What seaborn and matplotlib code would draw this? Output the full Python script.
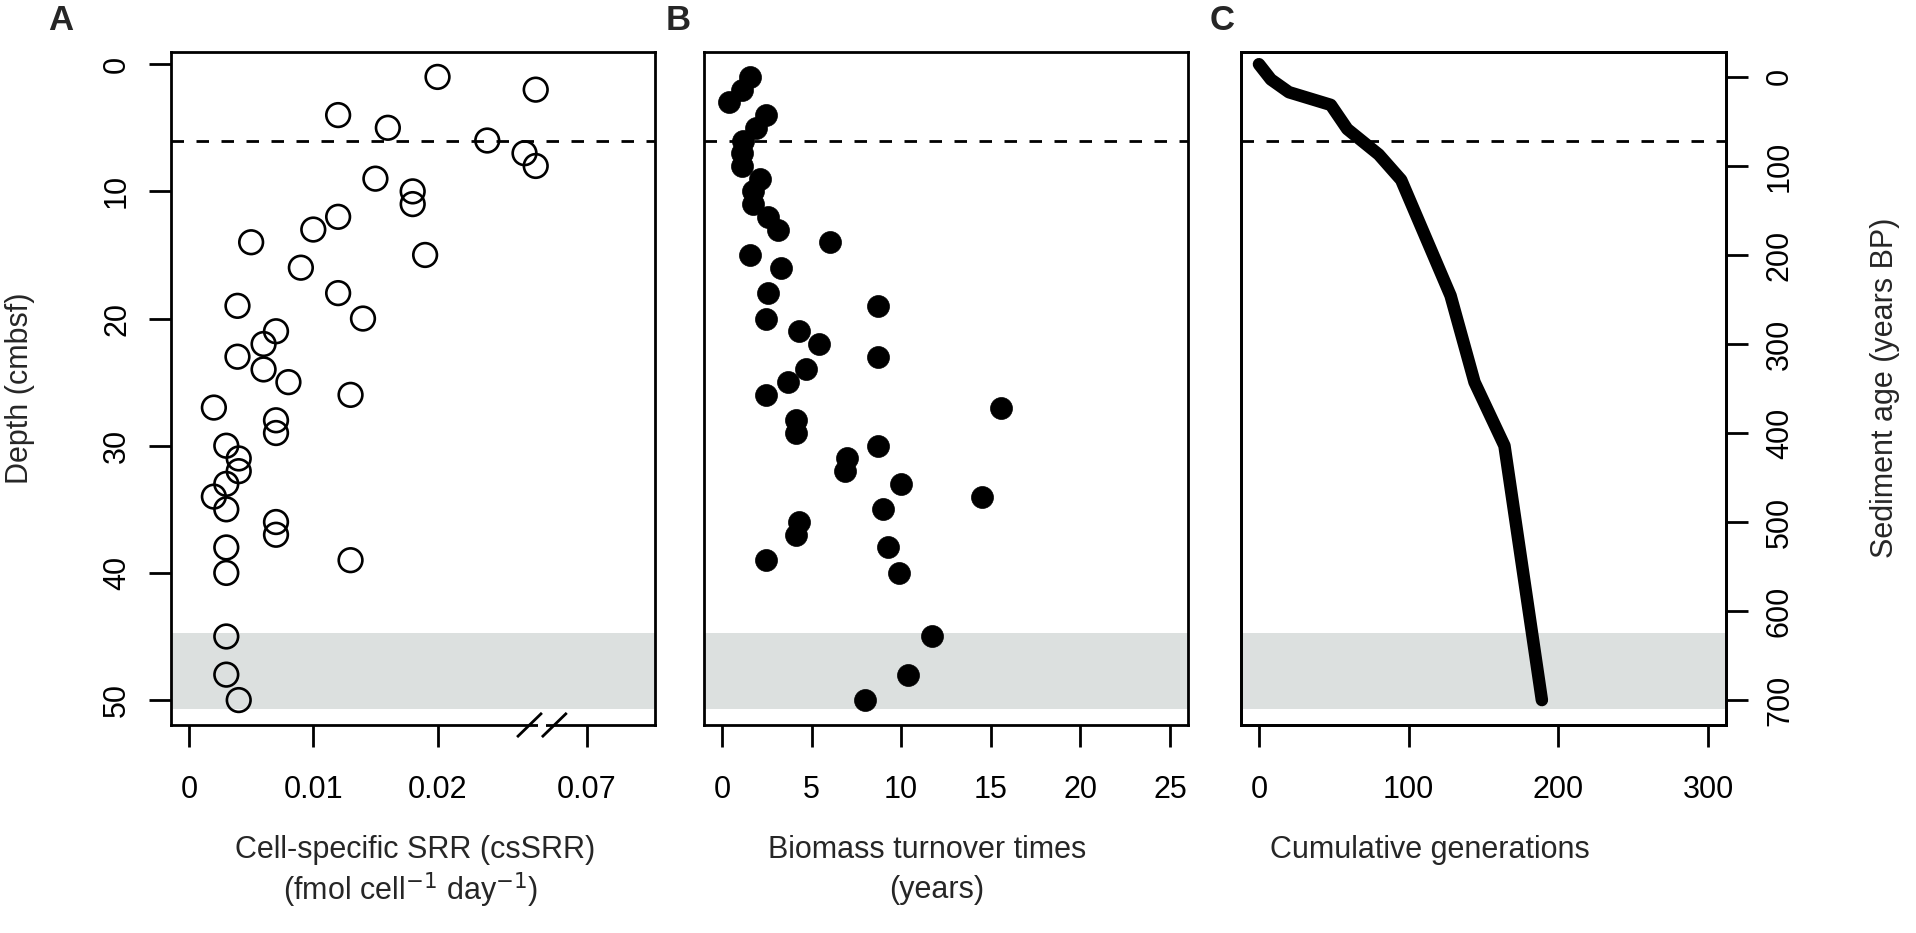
import numpy as np
import pandas as pd
import matplotlib
matplotlib.use("Agg")
import matplotlib.pyplot as plt
import seaborn as sns

# ---------------- data ----------------
depth_a = [1, 2, 4, 5, 6, 7, 8, 9, 10, 11, 12, 13, 14, 15, 16, 18, 19, 20, 21, 22,
           23, 24, 25, 26, 27, 28, 29, 30, 31, 32, 33, 34, 35, 36, 37, 38, 39, 40,
           45, 48, 50]
cssrr = [0.020, 0.0659, 0.012, 0.016, 0.024, 0.065, 0.0659, 0.015, 0.018, 0.018,
         0.012, 0.010, 0.005, 0.019, 0.009, 0.012, 0.0039, 0.014, 0.007, 0.006,
         0.0039, 0.006, 0.008, 0.013, 0.002, 0.007, 0.007, 0.003, 0.004, 0.004,
         0.003, 0.002, 0.003, 0.007, 0.007, 0.003, 0.013, 0.003, 0.003, 0.003,
         0.004]

depth_b = [1, 2, 3, 4, 5, 6, 7, 8, 9, 10, 11, 12, 13, 14, 15, 16, 18, 19, 20, 21,
           22, 23, 24, 25, 26, 27, 28, 29, 30, 31, 32, 33, 34, 35, 36, 37, 38, 39,
           40, 45, 48, 50]
turnover = [1.55, 1.14, 0.39, 2.44, 1.88, 1.17, 1.14, 1.14, 2.10, 1.73, 1.73, 2.57,
            3.13, 6.01, 1.55, 3.28, 2.57, 8.71, 2.44, 4.30, 5.41, 8.71, 4.71, 3.68,
            2.44, 15.59, 4.11, 4.11, 8.71, 7.00, 6.85, 9.97, 14.5, 8.99, 4.30, 4.11,
            9.27, 2.44, 9.86, 11.74, 10.36, 7.96]

depth_c = [0, 1.2, 2.2, 3.2, 5.1, 7.1, 9.1, 18.2, 25.0, 30.0, 50.0]
generations = [0, 8, 20, 48, 59, 80, 95, 128, 144, 164, 189]

xticks_a = [0, 0.01, 0.02, 0.07]
xticklabels_a = ["0", "0.01", "0.02", "0.07"]
xticks_b = [0, 5, 10, 15, 20, 25]
xticks_c = [0, 100, 200, 300]
yticks_depth = [0, 10, 20, 30, 40, 50]
yticks_age = [0, 100, 200, 300, 400, 500, 600, 700]

smtz_depth = 6
band = (44.7, 50.7)

# axis break for panel A: values beyond the break are shifted left
break_shift = 0.038
break_at = 0.0284

def to_broken(v):
    return v - break_shift if v > 0.05 else v

df_a = pd.DataFrame({"x": [to_broken(v) for v in cssrr], "depth": depth_a})
df_b = pd.DataFrame({"x": turnover, "depth": depth_b})
df_c = pd.DataFrame({"gen": generations, "depth": depth_c})

# ---------------- style ----------------
sns.set_theme(style="white")
plt.rcParams['font.family'] = ['Liberation Sans', 'DejaVu Sans']
plt.rcParams['axes.linewidth'] = 2.0
plt.rcParams['axes.edgecolor'] = 'black'

W, H = 1916, 933
fig = plt.figure(figsize=(W / 100, H / 100), dpi=100)

def rect(left, right, top=52, bottom=725):
    return [left / W, 1 - bottom / H, (right - left) / W, (bottom - top) / H]

axA = fig.add_axes(rect(171, 655))
axB = fig.add_axes(rect(704, 1188))
axC = fig.add_axes(rect(1241, 1726))

band_color = '#dce0df'
FS = 22

for ax in (axA, axB, axC):
    ax.axhspan(band[0], band[1], color=band_color, lw=0, zorder=0)
    ax.axhline(smtz_depth, color='black', lw=2.0, ls=(0, (4.5, 4.5)), zorder=1)
    ax.set_ylim(51.96, -0.96)
    for sp in ax.spines.values():
        sp.set_color('black')
        sp.set_linewidth(2.0)
    ax.tick_params(axis='x', bottom=True, direction='out', length=16, width=2,
                   colors='black', labelsize=FS, pad=20)

# Panel A
sns.scatterplot(data=df_a, x="x", y="depth", ax=axA, marker='o', s=290,
                facecolor='none', edgecolor='black', linewidth=1.9, zorder=3)
axA.set_xlim(-0.00145, 0.0375)
axA.set_xticks([to_broken(v) if v > 0.05 else v for v in xticks_a])
axA.set_xticklabels(xticklabels_a)
axA.set_yticks(yticks_depth)
axA.tick_params(axis='y', left=True, direction='out', length=16, width=2,
                colors='black', labelsize=FS, pad=12)
for lab in axA.get_yticklabels():
    lab.set_rotation(90)
    lab.set_va('center')
axA.set_xlabel("")
axA.set_ylabel("")

# axis break marks
dx, dy = 0.001, 0.95
yb = 51.96
axA.fill([break_at - dx * 0.3, break_at + dx * 0.3, break_at + dx * 0.3, break_at - dx * 0.3],
         [yb - 0.3, yb - 0.3, yb + 0.3, yb + 0.3], color='white', clip_on=False, zorder=5, lw=0)
for c in (break_at - dx, break_at + dx):
    axA.plot([c - dx, c + dx], [yb + dy, yb - dy], color='black', lw=2.0,
             clip_on=False, zorder=6, solid_capstyle='butt')

# Panel B
sns.scatterplot(data=df_b, x="x", y="depth", ax=axB, marker='o', s=250,
                color='black', edgecolor='black', linewidth=0.5, zorder=3)
axB.set_xlim(-1, 26)
axB.set_xticks(xticks_b)
axB.set_yticks([])
axB.set_xlabel("")
axB.set_ylabel("")

# Panel C
sns.lineplot(data=df_c, x="gen", y="depth", ax=axC, sort=False, estimator=None,
             color='black', lw=9, zorder=3, solid_capstyle='round', solid_joinstyle='round')
axC.set_xlim(-12, 312)
axC.set_xticks(xticks_c)
axC.set_yticks([])
axC.set_xlabel("")
axC.set_ylabel("")

axC2 = axC.twinx()
axC2.set_ylim(728, -28)
axC2.set_yticks(yticks_age)
axC2.tick_params(axis='y', right=True, direction='out', length=16, width=2,
                 colors='black', labelsize=FS, pad=12)
for lab in axC2.get_yticklabels():
    lab.set_rotation(90)
    lab.set_va('center')
for sp in axC2.spines.values():
    sp.set_color('black')
    sp.set_linewidth(2.0)

# x labels
axA.text(0.504, -0.185, "Cell-specific SRR (csSRR)", transform=axA.transAxes,
         ha='center', va='center', fontsize=FS)
axA.text(0.495, -0.245, r"(fmol cell$^{-1}$ day$^{-1}$)", transform=axA.transAxes,
         ha='center', va='center', fontsize=FS)
axB.text(0.46, -0.185, "Biomass turnover times", transform=axB.transAxes,
         ha='center', va='center', fontsize=FS)
axB.text(0.48, -0.245, "(years)", transform=axB.transAxes,
         ha='center', va='center', fontsize=FS)
axC.text(0.39, -0.185, "Cumulative generations", transform=axC.transAxes,
         ha='center', va='center', fontsize=FS)

# y labels
fig.text(20 / W, 1 - 388 / H, "Depth (cmbsf)", rotation=90, ha='center', va='center',
         fontsize=FS)
fig.text(1885 / W, 1 - 388 / H, "Sediment age (years BP)", rotation=90, ha='center',
         va='center', fontsize=FS)

# panel letters
for letter, xp in (("A", 61), ("B", 678), ("C", 1222)):
    fig.text(xp / W, 1 - 20 / H, letter, ha='center', va='center', fontsize=25,
             fontweight='bold')

fig.savefig("out.png", dpi=100)
